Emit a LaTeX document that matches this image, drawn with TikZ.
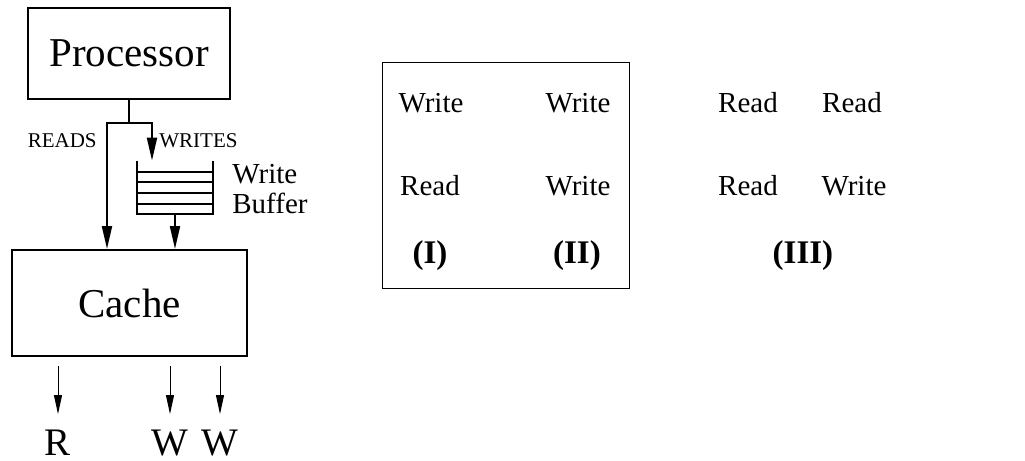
\documentclass[tikz,border=0pt]{standalone}
\usepackage{fontspec}
\setmainfont{Liberation Serif}
\usetikzlibrary{arrows.meta}

\begin{document}
\begin{tikzpicture}[%
    x=0.5pt, y=-0.5pt,
    unitbox/.style={
        draw,
        line width=1pt,
        rectangle,
        inner sep=0,
        font=\fontsize{20.5}{24}\selectfont
        },
    flowarrow/.style={%
        line width=1pt,
        -{Triangle[length=11.5pt,width=5pt]}},
    outarrow/.style={%
        line width=0.5pt,
        -{Triangle[length=9.5pt,width=4pt]}},
    lbl/.style={inner sep=0, anchor=base},
    small/.style={lbl, font=\fontsize{10.5}{12}\selectfont},
    op/.style={lbl, font=\fontsize{14.5}{17}\selectfont},
    tag/.style={lbl, font=\fontsize{16.5}{19}\selectfont\bfseries},
    big/.style={lbl, font=\fontsize{19.5}{23}\selectfont},
]

\useasboundingbox (0,0) rectangle (1025,461);

\node[unitbox, minimum width=101pt, minimum height=45.5pt] (proc) at (129,53.5) {Processor};
\node[unitbox, minimum width=117.5pt, minimum height=53pt] (cache) at (129.5,303) {Cache};
\node[inner sep=0, minimum width=38pt, minimum height=26.5pt] (buf) at (175,187.5) {};

\coordinate (split) at (129,123);
\coordinate (rdturn) at (107,123);
\coordinate (wrturn) at (152,123);

\draw[line width=1pt] (proc.south) -- (split);
\draw[flowarrow] (split) -- (rdturn) -- (rdturn |- cache.north);
\draw[flowarrow] (split) -- (wrturn) -- (wrturn |- buf.north);
\draw[flowarrow] (buf.south) -- (buf.south |- cache.north);

\draw[line width=1pt] (buf.north west) -- (buf.south west) -- (buf.south east) -- (buf.north east);
\foreach \y in {172,182,193,204}
    \draw[line width=1pt] (buf.west |- 0,\y) -- (buf.east |- 0,\y);

\node[small, anchor=base east] (reads) at (97,147) {READS};
\node[small, anchor=base west] (writes) at (159,147) {WRITES};
\node[op, anchor=base west] (wbuf1) at (232,183) {Write};
\node[op, anchor=base west] (wbuf2) at (232,213) {Buffer};

\node[big] (r1) at (58,455) {R};
\node[big] (w1) at (170,455) {W};
\node[big] (w2) at (220,455) {W};
\foreach \n in {r1,w1,w2}
    \draw[outarrow, shorten >=7.5pt] ([yshift=-4.5pt]cache.south -| \n) -- (\n.north);

\node[draw, line width=0.5pt, inner sep=0, minimum width=123.5pt, minimum height=113pt] (grp) at (505.5,175) {};

\node[op] (a1) at (431,112) {Write};
\node[op] (a2) at (578,112) {Write};
\node[op] (b1) at (430,195) {Read};
\node[op] (b2) at (578,195) {Write};
\node[tag] (t1) at (430,263) {(I)};
\node[tag] (t2) at (577,263) {(II)};

\node[op] (a3) at (748,112) {Read};
\node[op] (a4) at (852,112) {Read};
\node[op] (b3) at (748,195) {Read};
\node[op] (b4) at (854,195) {Write};
\node[tag] (t3) at (803,263) {(III)};
\end{tikzpicture}
\end{document}
